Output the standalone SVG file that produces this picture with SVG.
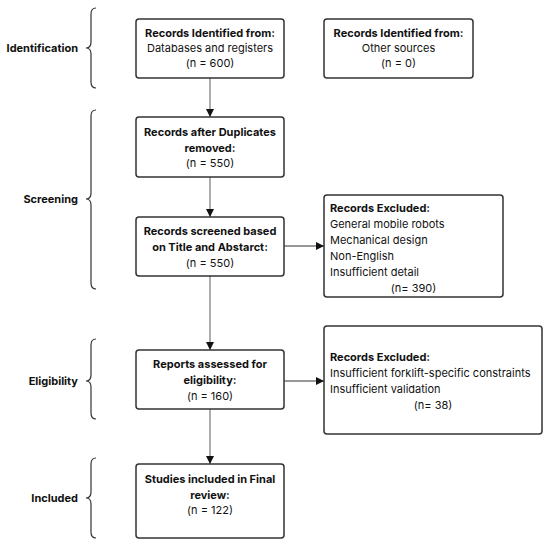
<svg xmlns="http://www.w3.org/2000/svg" width="550" height="547" viewBox="0 0 550 547">
<defs>
<marker id="ah" viewBox="0 0 10 10" refX="10" refY="5" markerWidth="8" markerHeight="8" markerUnits="userSpaceOnUse" orient="auto">
<path d="M0,0 L10,5 L0,10 z" fill="#111"/>
</marker>
<style>
.box{fill:#fff;stroke:#333;stroke-width:1.5}
.t{font-family:Inter,"Liberation Sans",sans-serif;font-size:11px;fill:#111}
.b{font-weight:bold}
.c{text-anchor:middle}
.lab{font-family:Inter,"Liberation Sans",sans-serif;font-size:11px;font-weight:bold;fill:#111;text-anchor:end}
.br{fill:none;stroke:#333;stroke-width:1.2}
.v{stroke:#777;stroke-width:1.2;fill:none;marker-end:url(#ah)}
.h{stroke:#333;stroke-width:1;fill:none;marker-end:url(#ah)}
</style>
</defs>
<rect width="550" height="547" fill="#fff"/>
<g id="phases">
<g id="identification">
<path class="br" d="M96,8 Q91,8 91,14 L91,42 Q91,48 86,48 Q91,48 91,54 L91,82 Q91,88 96,88"/>
<text class="lab" x="78" y="52">Identification</text>
</g>
<g id="screening">
<path class="br" d="M96,110 Q91,110 91,116 L91,193 Q91,199 86,199 Q91,199 91,205 L91,283 Q91,289 96,289"/>
<text class="lab" x="78" y="203">Screening</text>
</g>
<g id="eligibility">
<path class="br" d="M96,339 Q91,339 91,345 L91,375 Q91,381 86,381 Q91,381 91,387 L91,413 Q91,419 96,419"/>
<text class="lab" x="78" y="385">Eligibility</text>
</g>
<g id="included">
<path class="br" d="M96,458 Q91,458 91,464 L91,492 Q91,498 86,498 Q91,498 91,504 L91,532 Q91,538 96,538"/>
<text class="lab" x="78" y="502">Included</text>
</g>
</g>
<g id="connectors">
<line class="v" x1="210" y1="78" x2="210" y2="117"/>
<line class="v" x1="210" y1="177" x2="210" y2="217"/>
<line class="v" x1="210" y1="276" x2="210" y2="350"/>
<line class="v" x1="210" y1="409" x2="210" y2="464"/>
<line class="h" x1="284" y1="246" x2="324" y2="246"/>
<line class="h" x1="284" y1="381" x2="324" y2="381"/>
</g>
<g id="n1">
<rect class="box" x="136" y="19" width="148" height="59" rx="3"/>
<text class="t c b" x="210" y="37">Records Identified from:</text>
<text class="t c" x="210" y="52">Databases and registers</text>
<text class="t c" x="210" y="67">(n = 600)</text>
</g>
<g id="n2">
<rect class="box" x="324" y="19" width="149" height="59" rx="3"/>
<text class="t c b" x="398.5" y="37">Records Identified from:</text>
<text class="t c" x="398.5" y="52">Other sources</text>
<text class="t c" x="398.5" y="67">(n = 0)</text>
</g>
<g id="n3">
<rect class="box" x="136" y="117" width="148" height="60" rx="3"/>
<text class="t c b" x="210" y="136">Records after Duplicates</text>
<text class="t c b" x="210" y="152">removed:</text>
<text class="t c" x="210" y="167">(n = 550)</text>
</g>
<g id="n4">
<rect class="box" x="136" y="217" width="148" height="59" rx="3"/>
<text class="t c b" x="210" y="235">Records screened based</text>
<text class="t c b" x="210" y="251">on Title and Abstarct:</text>
<text class="t c" x="210" y="267">(n = 550)</text>
</g>
<g id="n5">
<rect class="box" x="324" y="195" width="179" height="102" rx="3"/>
<text class="t b" x="330" y="212">Records Excluded:</text>
<text class="t" x="330" y="228">General mobile robots</text>
<text class="t" x="330" y="244">Mechanical design</text>
<text class="t" x="330" y="260">Non-English</text>
<text class="t" x="330" y="276">Insufficient detail</text>
<text class="t c" x="413.5" y="292">(n= 390)</text>
</g>
<g id="n6">
<rect class="box" x="136" y="350" width="148" height="59" rx="3"/>
<text class="t c b" x="210" y="368">Reports assessed for</text>
<text class="t c b" x="210" y="384">eligibility:</text>
<text class="t c" x="210" y="400">(n = 160)</text>
</g>
<g id="n7">
<rect class="box" x="324" y="326" width="218" height="108" rx="3"/>
<text class="t b" x="330" y="361">Records Excluded:</text>
<text class="t" x="330" y="377">Insufficient forklift-specific constraints</text>
<text class="t" x="330" y="393">Insufficient validation</text>
<text class="t c" x="433" y="409">(n= 38)</text>
</g>
<g id="n8">
<rect class="box" x="136" y="464" width="148" height="74" rx="3"/>
<text class="t c b" x="210" y="483">Studies included in Final</text>
<text class="t c b" x="210" y="499">review:</text>
<text class="t c" x="210" y="514">(n = 122)</text>
</g>
</svg>
